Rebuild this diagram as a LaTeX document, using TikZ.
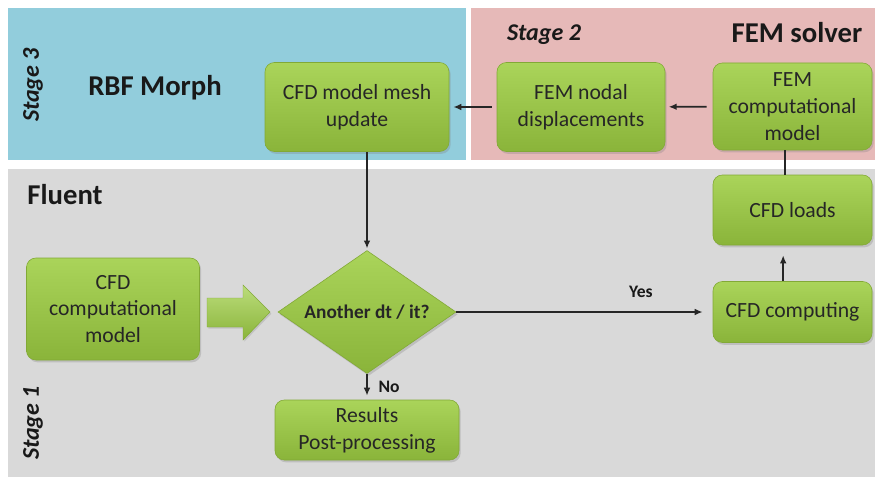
\documentclass[tikz,border=0pt]{standalone}
\usepackage{fontspec}
\setmainfont{Carlito}
\usetikzlibrary{arrows.meta,shapes.geometric,shadows}
\definecolor{grtop}{HTML}{AAD45A}
\definecolor{grbot}{HTML}{8AB43A}
\definecolor{grline}{HTML}{82A936}
\definecolor{rbfblue}{HTML}{92CDDC}
\definecolor{fempink}{HTML}{E6B9B8}
\definecolor{flgray}{HTML}{D9D9D9}
\tikzset{
  box/.style={rectangle,rounded corners=8pt,draw=grline,line width=.5pt,
    top color=grtop,bottom color=grbot,align=center,inner sep=0pt,
    font=\fontsize{18.5}{23}\selectfont,text=black!85,
    drop shadow={shadow xshift=.05cm,shadow yshift=-.07cm,opacity=.3}},
  dec/.style={diamond,aspect=1.45,draw=grline,line width=.5pt,
    top color=grtop,bottom color=grbot,inner sep=0pt,
    font=\fontsize{16.5}{19}\selectfont\bfseries,text=black!85,
    drop shadow={shadow xshift=.05cm,shadow yshift=-.07cm,opacity=.3}},
  ttl/.style={font=\fontsize{24.5}{28}\selectfont\bfseries,text=black!90},
  stg/.style={font=\fontsize{20.5}{24}\selectfont\bfseries\itshape,text=black!90},
  lnk/.style={draw=black!85,line width=1.6pt},
  arr/.style={lnk,-{Latex[length=2.4mm,width=2mm]}},
  lb/.style={font=\fontsize{15}{18}\selectfont\bfseries,text=black!90},
}

\begin{document}
\begin{tikzpicture}[x=0.03cm,y=-0.03cm]
\useasboundingbox (0,0) rectangle (875,477);
% the three tool panels
\fill[rbfblue] (8,8) rectangle (466,160);
\fill[fempink] (471,8) rectangle (875,160);
\fill[flgray] (8,169) rectangle (875,477);
\node[stg,rotate=90] (s3) at (33,85) {Stage 3};
\node[ttl] (rbf) at (155,88) {RBF Morph};
\node[stg] (s2) at (544,35) {Stage 2};
\node[ttl] (fem) at (797,33) {FEM solver};
\node[ttl] (flu) at (65,195) {Fluent};
\node[stg,rotate=90] (s1) at (33,423) {Stage 1};
% boxes
\node[box,minimum width=5.52cm,minimum height=2.67cm] (mesh) at (357,107) {CFD model mesh\\update};
\node[box,minimum width=5.04cm,minimum height=2.67cm] (fnd) at (581,107) {FEM nodal\\displacements};
\node[box,minimum width=4.77cm,minimum height=2.61cm] (fcm) at (792.5,106.5) {FEM\\computational\\model};
\node[box,minimum width=4.77cm,minimum height=2.1cm] (loads) at (792.5,210) {CFD loads};
\node[box,minimum width=4.77cm,minimum height=1.83cm] (cmp) at (792.5,312) {CFD computing};
\node[box,minimum width=5.19cm,minimum height=3.06cm] (cfdm) at (113,309) {CFD\\computational\\model};
\node[dec,minimum width=5.34cm,minimum height=3.69cm] (dt) at (367,312) {Another dt / it?};
\node[box,minimum width=5.52cm,minimum height=1.8cm] (res) at (367,430) {Results\\Post-processing};
% block arrow into the decision
\draw[grline,line width=.4pt,top color=grtop!80!white,bottom color=grbot,
  drop shadow={shadow xshift=.04cm,shadow yshift=-.05cm,opacity=.25}]
  (207,298) -- (243,298) -- (243,285) -- (270,312) -- (243,340) -- (243,327)
  -- (207,327) -- cycle;
% connectors
\draw[arr,shorten <=0.18cm,shorten >=0.1cm] (fcm) -- (fnd);
\draw[arr,shorten <=0.15cm,shorten >=0.12cm] (fnd) -- (mesh);
\draw[arr,shorten >=0.05cm] (dt.north |- mesh.south) -- (dt.north);
\draw[lnk] ([xshift=-0.23cm]fcm.south) -- ([xshift=-0.23cm]loads.north);
\draw[arr,shorten >=0.3cm] ([xshift=-0.28cm]cmp.north) -- ([xshift=-0.28cm]loads.south);
\draw[arr,shorten >=0.3cm] (dt.east) -- (cmp.west) node[lb,pos=0.72,above=0.3cm] {Yes};
\draw[arr,shorten >=0.12cm] (dt.south) -- (res.north) node[lb,midway,right=0.2cm] {No};
\end{tikzpicture}
\end{document}
